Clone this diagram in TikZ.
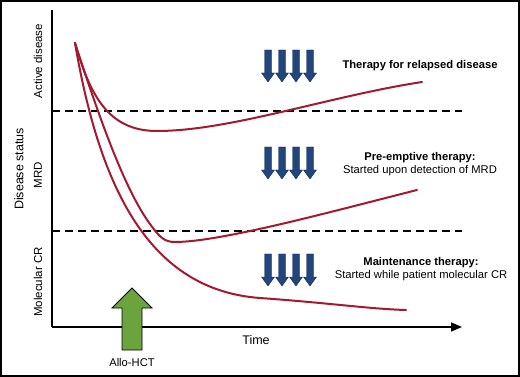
\documentclass[tikz,border=0pt]{standalone}
\usepackage{fontspec}
\setmainfont{Liberation Sans}
\usepackage{tikz}
\usetikzlibrary{
  arrows.meta,
  positioning
}
\definecolor{dsCurve}{HTML}{A3192F}
\definecolor{dsTherapy}{HTML}{22457C}
\definecolor{dsHCT}{HTML}{6BA33E}
\tikzset{
  frame/.style={draw=black, line width=2pt},
  axisline/.style={line width=1.5pt, black},
  timeaxis/.style={axisline, -{Triangle[length=11pt, width=9pt]}},
  cutoff/.style={line width=1.4pt, dash pattern=on 8pt off 5pt},
  course/.style={line width=2pt, dsCurve, line cap=round},
  dose/.style={fill=dsTherapy, draw=dsTherapy!70!black, line width=0.4pt},
  hct/.style={fill=dsHCT, draw=black, line width=0.8pt},
  status/.style={rotate=90, font=\fontsize{11.5}{13}\selectfont, inner sep=0pt},
  tag/.style={font=\fontsize{11.2}{13}\selectfont, align=center, inner sep=0pt}
}
\begin{document}
\begin{tikzpicture}[x=1pt, y=-1pt]
  \useasboundingbox (0,0) rectangle (520,377);
  \draw[frame] (1,1) rectangle (519,376);
  % axes
  \coordinate (ytop) at (52,10);
  \coordinate (origin) at (52,327);
  \coordinate (xend) at (462,327);
  \draw[axisline] (ytop) -- (origin);
  \draw[timeaxis] (origin) -- (xend);
  % status thresholds
  \coordinate (mrdL) at (52,111);
  \coordinate (mrdR) at (462,111);
  \coordinate (crL) at (52,231);
  \coordinate (crR) at (462,231);
  \draw[cutoff] (mrdL) -- (mrdR);
  \draw[cutoff] (crL) -- (crR);
  % disease courses after transplant
  \coordinate (dx) at (75,43);
  \draw[course] (dx) .. controls (90,95) and (108,131) .. (157,131)
    .. controls (230,131) and (330,96) .. (422,82);
  \draw[course] (dx) .. controls (100,120) and (125,190) .. (150,224)
    .. controls (160,238) and (165,242) .. (175,242)
    .. controls (220,242) and (330,212) .. (417,190);
  \draw[course] (dx) .. controls (100,190) and (150,290) .. (260,298)
    .. controls (330,303) and (370,309) .. (406,310);
  % therapy arrows
  \foreach \ty in {50,147,254}{
    \foreach \cx in {268,282,296,310}{
      \draw[dose] (\cx-3.5,\ty) -- (\cx+3.5,\ty) -- (\cx+3.5,\ty+23) -- (\cx+6.5,\ty+23)
        -- (\cx,\ty+32) -- (\cx-6.5,\ty+23) -- (\cx-3.5,\ty+23) -- cycle;
    }
  }
  % transplant
  \draw[hct] (122,350) -- (122,308) -- (112,308) -- (132,288) -- (152,308)
    -- (142,308) -- (142,350) -- cycle;
  % labels
  \node[status, font=\fontsize{12.5}{14}\selectfont] (ylabel) at (19,169) {Disease status};
  \node[status] (active) at (38,61) {Active disease};
  \node[status] (mrd) at (38,175) {MRD};
  \node[status] (mcr) at (38,282) {Molecular CR};
  \node[tag, font=\fontsize{12.5}{14}\selectfont] (time) at (256,340) {Time};
  \node[tag] (allo) at (132,362) {Allo-HCT};
  \node[tag] (relapse) at (420,66) {\textbf{Therapy for relapsed disease}};
  \node[tag] (preempt) at (420,164) {\textbf{Pre-emptive therapy:}\\Started upon detection of MRD};
  \node[tag] (maint) at (421,269.5) {\textbf{Maintenance therapy:}\\Started while patient molecular CR};
\end{tikzpicture}
\end{document}
